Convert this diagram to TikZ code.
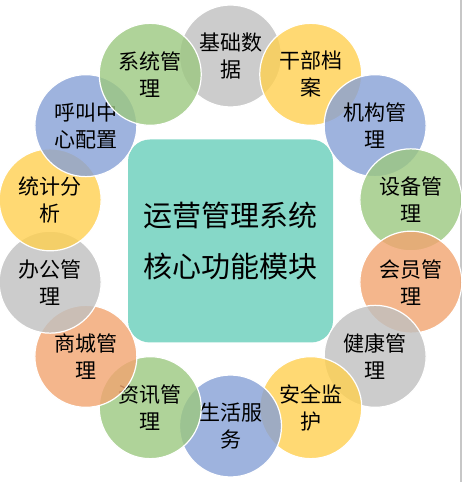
\documentclass[tikz,border=0pt]{standalone}
\usepackage{fontspec}
\newfontfamily\cjk{Noto Sans CJK SC}
\definecolor{modgray}{RGB}{192,192,192}
\definecolor{modyellow}{RGB}{255,208,80}
\definecolor{modblue}{RGB}{134,160,214}
\definecolor{modgreen}{RGB}{156,200,128}
\definecolor{modorange}{RGB}{242,164,112}
\definecolor{coreteal}{RGB}{134,216,200}
\tikzset{
  module/.style={circle, minimum size=102pt, inner sep=0pt, fill=#1,
    fill opacity=0.8, text opacity=1, draw=white, line width=1.2pt,
    align=center, font=\cjk\fontsize{21}{27}\selectfont},
  core/.style={rectangle, rounded corners=22pt, fill=coreteal,
    minimum width=205pt, minimum height=203pt, align=center,
    font=\cjk\fontsize{29}{51}\selectfont}
}
\begin{document}
\begin{tikzpicture}[x=1pt, y=1pt]
  \useasboundingbox (0,0) rectangle (463,482);
  \fill[white] (0,0) rectangle (463,482);
  \draw[black!22, line width=2pt] (461,0) -- (461,482);
  \coordinate (c) at (230.5,241);
  \node[core] (core) at (c) {运营管理系统\\核心功能模块};
  % modules, clockwise from the top
  \foreach \txt/\col [count=\i, evaluate=\i as \a using 90-(\i-1)*360/14] in
    {基础数\\据/modgray, 干部档\\案/modyellow, 机构管\\理/modblue,
     设备管\\理/modgreen, 会员管\\理/modorange, 健康管\\理/modgray,
     安全监\\护/modyellow, 生活服\\务/modblue, 资讯管\\理/modgreen,
     商城管\\理/modorange, 办公管\\理/modgray, 统计分\\析/modyellow,
     呼叫中\\心配置/modblue, 系统管\\理/modgreen}
    \node[module=\col] (m\i) at ([shift={(\a:185)}]c) {\txt};
\end{tikzpicture}
\end{document}
